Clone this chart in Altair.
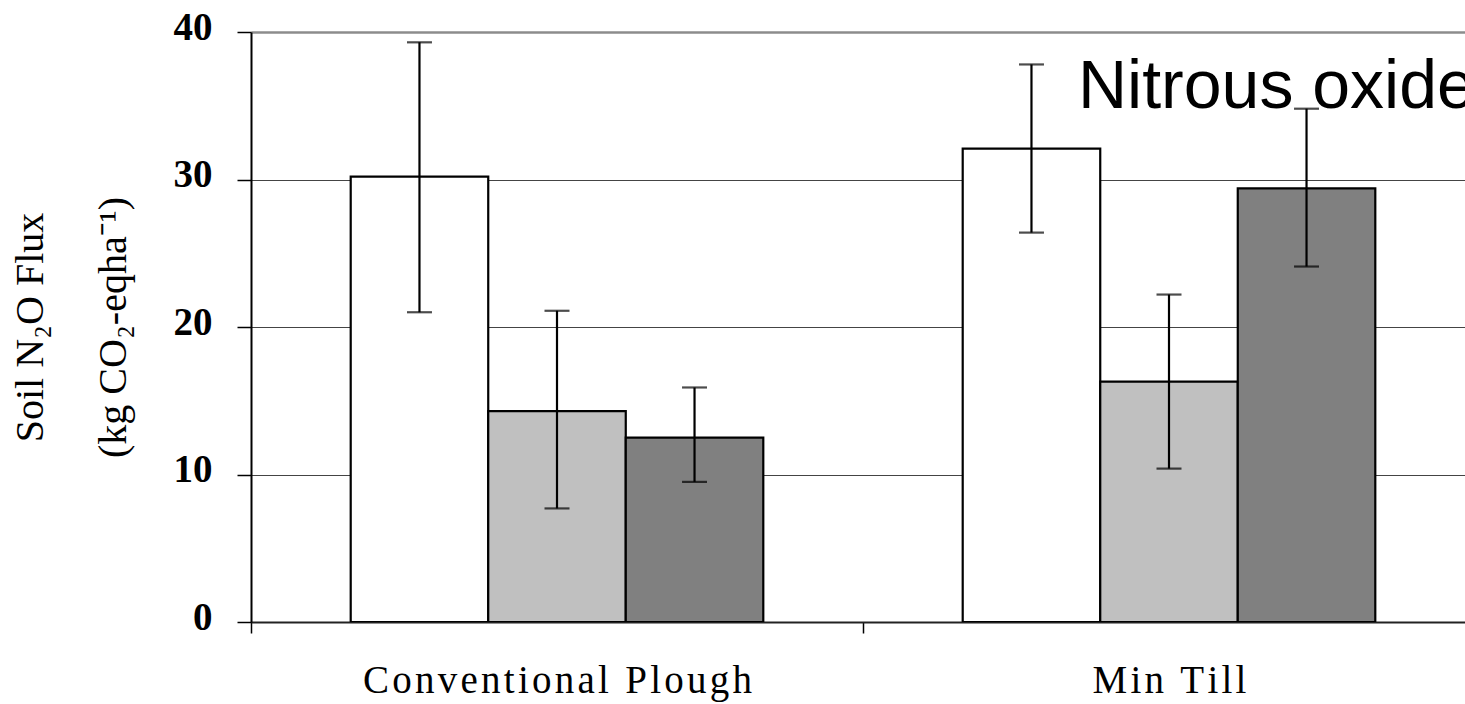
import altair as alt
import pandas as pd

categories = ["Conventional Plough", "Min Till"]
series = ["Treatment 1", "Treatment 2", "Treatment 3"]
series_colors = ["#FFFFFF", "#C0C0C0", "#808080"]
conv_values = [30.2, 14.3, 12.5]
conv_low = [21.0, 7.7, 9.5]
conv_high = [39.3, 21.1, 15.9]
min_values = [32.1, 16.3, 29.4]
min_low = [26.4, 10.4, 24.1]
min_high = [37.8, 22.2, 34.8]
y_ticks = [0, 10, 20, 30, 40]

rows = []
for cat, vals, lo, hi in [
    (categories[0], conv_values, conv_low, conv_high),
    (categories[1], min_values, min_low, min_high),
]:
    for s, v, l, h in zip(series, vals, lo, hi):
        rows.append({"cat": cat, "series": s, "value": v, "lo": l, "hi": h})
df = pd.DataFrame(rows)

W, H = 1214, 590

x_scale = alt.Scale(domain=categories, range=[0, 1224], paddingInner=0, paddingOuter=0)
x_enc = alt.X(
    "cat:N",
    sort=categories,
    scale=x_scale,
    axis=alt.Axis(
        title=None,
        labelAngle=0,
        labelExpr="join(split(datum.label, ''), '\u200a')",
        labelFont="Liberation Serif",
        labelFontSize=39,
        labelColor="black",
        labelBaseline="alphabetic",
        labelPadding=59,
        labelLimit=0,
        tickBand="extent",
        tickSize=11,
        tickColor="black",
        tickWidth=1.5,
        domainColor="#222222",
        domainWidth=2,
        grid=False,
    ),
)
xoff = alt.XOffset(
    "series:N",
    sort=series,
    scale=alt.Scale(domain=series, paddingOuter=0.725, paddingInner=0),
)
y_scale = alt.Scale(domain=[0, 40], nice=False)

bars = alt.Chart(df).mark_bar(stroke="black", strokeWidth=2.2, clip=True).encode(
    x=x_enc,
    xOffset=xoff,
    y=alt.Y(
        "value:Q",
        scale=y_scale,
        axis=alt.Axis(
            values=y_ticks,
            title=["Soil N\u2082O Flux", "(kg CO\u2082-eqha\u207b\u00b9)"],
            titleFont="Liberation Serif",
            titleFontSize=40,
            titleFontWeight="normal",
            titleColor="black",
            titleAngle=270,
            titleAlign="center",
            titleBaseline="middle",
            titleLineHeight=83,
            titleX=-221,
            titleY=295,
            labelFont="Liberation Serif",
            labelFontWeight="bold",
            labelFontSize=39,
            labelColor="black",
            labelPadding=25,
            labelOffset=-5,
            tickSize=14,
            tickColor="black",
            tickWidth=1.5,
            domainColor="black",
            domainWidth=2,
            grid=True,
            gridColor={"condition": {"test": "datum.value == 40", "value": "#8c8c8c"}, "value": "#444444"},
            gridWidth={"condition": {"test": "datum.value == 40", "value": 2.5}, "value": 1.2},
        ),
    ),
    fill=alt.Fill("series:N", scale=alt.Scale(domain=series, range=series_colors), legend=None),
)

err = alt.Chart(df).mark_rule(color="black", strokeWidth=2.2).encode(
    x=alt.X("cat:N", sort=categories, scale=x_scale),
    xOffset=xoff,
    y=alt.Y("lo:Q", scale=y_scale),
    y2="hi:Q",
)

caps_lo = alt.Chart(df).mark_tick(color="black", thickness=2.2, size=25).encode(
    x=alt.X("cat:N", sort=categories, scale=x_scale),
    xOffset=xoff,
    y=alt.Y("lo:Q", scale=y_scale),
)
caps_hi = alt.Chart(df).mark_tick(color="black", thickness=2.2, size=25).encode(
    x=alt.X("cat:N", sort=categories, scale=x_scale),
    xOffset=xoff,
    y=alt.Y("hi:Q", scale=y_scale),
)

label = alt.Chart(pd.DataFrame({"t": ["Nitrous oxide"]})).mark_text(
    font="Liberation Sans",
    fontSize=68,
    align="left",
    baseline="alphabetic",
    color="black",
).encode(text="t:N", x=alt.value(827), y=alt.value(76))

chart = alt.layer(bars, err, caps_lo, caps_hi, label).properties(
    width=W,
    height=H,
    autosize=alt.AutoSizeParams(type="none"),
    padding={"left": 251, "top": 32, "right": 0, "bottom": 82},
).configure_view(stroke=None).configure(background="white")

chart.save("out.html", embed_options={"renderer": "svg", "actions": False})
